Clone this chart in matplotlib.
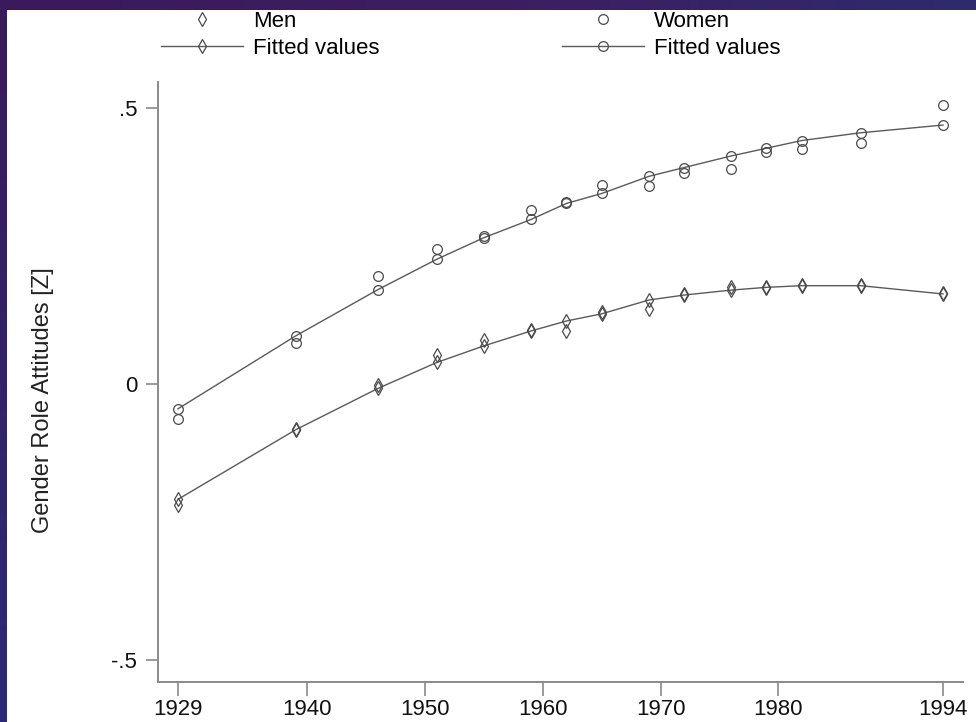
import matplotlib
matplotlib.use('Agg')
import matplotlib.pyplot as plt
import numpy as np
from matplotlib import font_manager
from matplotlib.lines import Line2D

# ---------------- data ----------------
years = [1929, 1939, 1946, 1951, 1955, 1959, 1962, 1965, 1969, 1972, 1976, 1979, 1982, 1987, 1994]
men_obs = [-0.220, -0.081, -0.002, 0.052, 0.080, 0.097, 0.095, 0.131, 0.136, 0.163, 0.175, 0.174, 0.179, 0.179, 0.164]
men_fit = [-0.209, -0.083, -0.008, 0.039, 0.069, 0.096, 0.114, 0.127, 0.152, 0.161, 0.170, 0.175, 0.178, 0.178, 0.163]
women_obs = [-0.064, 0.075, 0.195, 0.244, 0.268, 0.316, 0.329, 0.361, 0.359, 0.382, 0.389, 0.420, 0.425, 0.436, 0.506]
women_fit = [-0.045, 0.087, 0.171, 0.226, 0.265, 0.298, 0.327, 0.345, 0.376, 0.392, 0.413, 0.427, 0.441, 0.455, 0.469]
xtick_vals = [1929, 1940, 1950, 1960, 1970, 1980, 1994]
ytick_vals = [-0.5, 0.0, 0.5]
ytick_labels = ['-.5', '0', '.5']
legend_labels = ['Men', 'Fitted values', 'Women', 'Fitted values']
ylabel = 'Gender Role Attitudes [Z]'

# ---------------- font ----------------
def pick_font(cands):
    for c in cands:
        try:
            font_manager.findfont(c, fallback_to_default=False)
            return c
        except Exception:
            pass
    return 'DejaVu Sans'

fam = pick_font(['Liberation Sans Narrow', 'Liberation Sans', 'Arial'])
plt.rcParams['font.family'] = [fam, 'DejaVu Sans']

W, H = 976, 722
fig = plt.figure(figsize=(W / 100, H / 100), dpi=100)
fig.patch.set_facecolor('white')

# purple slide frame (top and left)
grad = np.linspace(0, 1, 256).reshape(-1, 1)
axl = fig.add_axes([0, 0, 7 / W, 1])
axl.imshow(grad, aspect='auto', cmap=matplotlib.colors.LinearSegmentedColormap.from_list(
    'p', ['#3a1a5c', '#2b2a78']), extent=[0, 1, 0, 1], origin='upper')
axl.axis('off')
axt = fig.add_axes([0, 1 - 10 / H, 1, 10 / H])
axt.imshow(grad.T, aspect='auto', cmap=matplotlib.colors.LinearSegmentedColormap.from_list(
    'q', ['#3a1a5c', '#3d1e60', '#2f2a6e']), extent=[0, 1, 0, 1])
axt.axis('off')

# main axes
x0, x1 = 158, 963
y_top, y_bot = 82, 682
ax = fig.add_axes([x0 / W, (H - y_bot) / H, (x1 - x0) / W, (y_bot - y_top) / H])
ax.set_xlim(1927.3, 1995.7)
ax.set_ylim(-0.54, 0.547)

mc = '#4a4a4a'
lc = '#5a5a5a'
ms = 7
ax.plot(years, men_fit, color=lc, lw=1.0, marker='d', ms=ms, mfc='none', mec=mc, mew=0.9, zorder=3)
ax.plot(years, women_fit, color=lc, lw=1.0, marker='o', ms=ms, mfc='none', mec=mc, mew=0.9, zorder=3)
ax.plot(years, men_obs, ls='none', marker='d', ms=ms, mfc='none', mec=mc, mew=0.9, zorder=3)
ax.plot(years, women_obs, ls='none', marker='o', ms=ms, mfc='none', mec=mc, mew=0.9, zorder=3)

for s in ['top', 'right']:
    ax.spines[s].set_visible(False)
for s in ['left', 'bottom']:
    ax.spines[s].set_color('#8a8a8a')
    ax.spines[s].set_linewidth(1.4)

ax.set_xticks(xtick_vals)
ax.set_xticklabels([str(v) for v in xtick_vals])
ax.set_yticks(ytick_vals)
ax.set_yticklabels(ytick_labels)
ax.tick_params(axis='x', length=10, width=1.2, color='#8a8a8a', labelsize=16, pad=2, labelcolor='#111111')
ax.tick_params(axis='y', length=9, width=1.2, color='#8a8a8a', labelsize=16, pad=6, labelcolor='#111111')
ax.set_ylabel(ylabel, fontsize=17, color='#222222')
ax.yaxis.set_label_coords((54 - x0) / (x1 - x0), (y_bot - 400) / (y_bot - y_top))

# legend
def h(marker, line):
    return Line2D([], [], color=lc, lw=1.0 if line else 0, ls='-' if line else 'none',
                  marker=marker, ms=ms, mfc='none', mec=mc, mew=0.9)

fig.legend([h('d', False), h('d', True), h('o', False), h('o', True)], legend_labels, ncol=2,
           loc='upper left', bbox_to_anchor=(145 / W, 1 + 5 / H), frameon=False,
           fontsize=16, handlelength=3.7, handletextpad=0.45, columnspacing=8.2,
           labelspacing=0.3, borderpad=0.2)

fig.savefig('out.png', dpi=100, facecolor='white')
